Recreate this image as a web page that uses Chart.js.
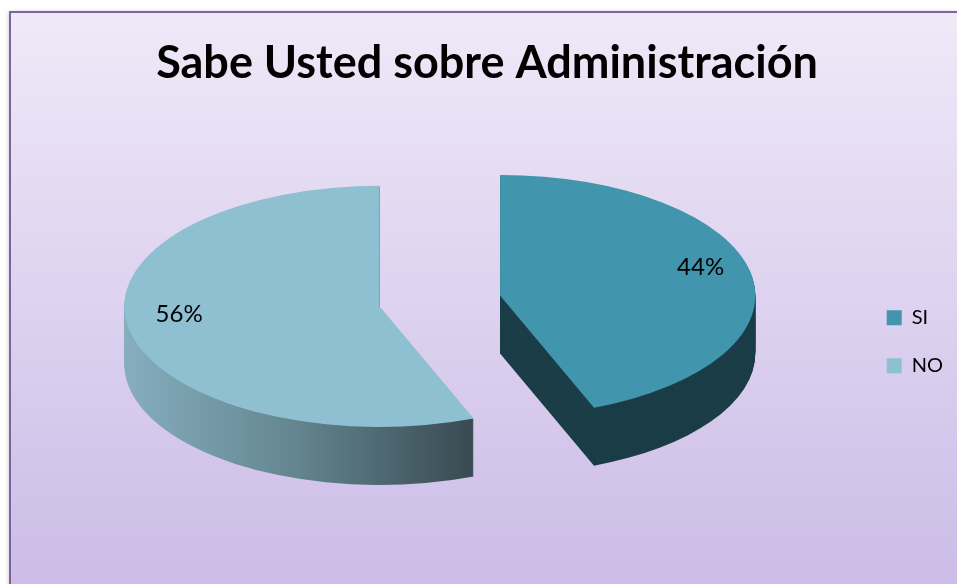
<!DOCTYPE html>
<html>
<head>
<meta charset="utf-8">
<script src="https://cdn.jsdelivr.net/npm/chart.js@4.4.1/dist/chart.umd.min.js"></script>
<style>
  html, body { margin: 0; padding: 0; background: #fff; }
</style>
</head>
<body>
<canvas id="myChart" width="957" height="584"></canvas>
<script>
var etiquetas = ['SI', 'NO'];
var valores = [44, 56];
var coloresArriba = ['#4195AC', '#8FC0D1'];
var titulo = 'Sabe Usted sobre Administración';

// apariencia del "3D"
var estirarX = 1.27, aplastarY = 0.60, profundidad = 58, separar = 0.24;

function geometria(arc) {
    var p = arc.getProps(['x', 'y', 'startAngle', 'endAngle', 'outerRadius'], true);
    var mid = (p.startAngle + p.endAngle) / 2;
    p.ox = Math.cos(mid) * p.outerRadius * separar;
    p.oy = Math.sin(mid) * p.outerRadius * separar;
    p.mid = mid;
    return p;
}

var fondo = {
    id: 'fondo',
    beforeDraw: function(chart) {
        var ctx = chart.ctx;
        ctx.save();
        ctx.fillStyle = '#fff';
        ctx.fillRect(0, 0, chart.width, chart.height);
        var g = ctx.createLinearGradient(0, 12, 0, chart.height);
        g.addColorStop(0, '#EFE9F8');
        g.addColorStop(1, '#CCBCE7');
        ctx.shadowColor = 'rgba(0,0,0,0.25)';
        ctx.shadowBlur = 4;
        ctx.shadowOffsetX = -1;
        ctx.fillStyle = g;
        ctx.fillRect(10, 12, chart.width + 20, chart.height + 20);
        ctx.shadowColor = 'transparent';
        ctx.strokeStyle = '#7F63A1';
        ctx.lineWidth = 2;
        ctx.strokeRect(10, 12, chart.width + 20, chart.height + 20);
        ctx.restore();
    }
};

var pie3d = {
    id: 'pie3d',
    beforeDatasetsDraw: function(chart) {
        var ctx = chart.ctx;
        var arcs = chart.getDatasetMeta(0).data;
        // paredes laterales
        arcs.forEach(function(arc, i) {
            var p = geometria(arc);
            var R = p.outerRadius;
            ctx.save();
            ctx.translate(p.x, p.y);
            ctx.scale(estirarX, aplastarY);
            ctx.translate(p.ox, p.oy);
            if (i === 0) {
                ctx.fillStyle = '#1B3D48';
            } else {
                var g = ctx.createLinearGradient(-R, 0, R * 0.35, 0);
                g.addColorStop(0, '#86AEBE');
                g.addColorStop(0.5, '#63858F');
                g.addColorStop(1, '#3A4B53');
                ctx.fillStyle = g;
            }
            for (var k = profundidad; k > 0; k--) {
                var dy = k / aplastarY;
                ctx.beginPath();
                ctx.moveTo(0, dy);
                ctx.arc(0, dy, R, p.startAngle, p.endAngle);
                ctx.closePath();
                ctx.fill();
            }
            ctx.restore();
        });
        // caras de arriba
        arcs.forEach(function(arc) {
            var p = geometria(arc);
            ctx.save();
            ctx.translate(p.x, p.y);
            ctx.scale(estirarX, aplastarY);
            ctx.translate(p.ox - p.x, p.oy - p.y);
            arc.draw(ctx);
            ctx.restore();
        });
        return false;
    },
    afterDraw: function(chart) {
        var ctx = chart.ctx;
        var arcs = chart.getDatasetMeta(0).data;
        ctx.save();
        ctx.font = '24px Lato';
        ctx.fillStyle = '#000';
        ctx.textAlign = 'center';
        ctx.textBaseline = 'middle';
        var total = valores.reduce(function(a, b) { return a + b; }, 0);
        arcs.forEach(function(arc, i) {
            var p = geometria(arc);
            var f = 0.8;
            var X = p.x + estirarX * (p.ox + Math.cos(p.mid) * p.outerRadius * f);
            var Y = p.y + aplastarY * (p.oy + Math.sin(p.mid) * p.outerRadius * f) - 10;
            ctx.fillText(Math.round(valores[i] / total * 100) + '%', X, Y);
        });
        ctx.restore();
    }
};

Chart.defaults.font.family = 'Lato';
Chart.defaults.color = '#000';

var ctx = document.getElementById('myChart').getContext('2d');
var myChart = new Chart(ctx, {
    type: 'pie',
    data: {
        labels: etiquetas,
        datasets: [{
            data: valores,
            backgroundColor: coloresArriba,
            borderWidth: 0
        }]
    },
    options: {
        responsive: false,
        animation: false,
        layout: { padding: { left: 21, right: 4, top: 0, bottom: 82 } },
        plugins: {
            title: {
                display: true,
                text: titulo,
                color: '#000',
                font: { size: 45, weight: 'bold', family: 'Lato' },
                padding: { top: 36, bottom: 10 }
            },
            legend: {
                position: 'right',
                // titulo vacio solo para bajar la leyenda
                title: { display: true, text: '', font: { size: 12 }, padding: { top: 167, bottom: 0 } },
                labels: {
                    boxWidth: 15,
                    boxHeight: 15,
                    padding: 28,
                    color: '#000',
                    font: { size: 20, family: 'Lato' }
                }
            },
            tooltip: { enabled: false }
        }
    },
    plugins: [fondo, pie3d]
});
</script>
</body>
</html>
